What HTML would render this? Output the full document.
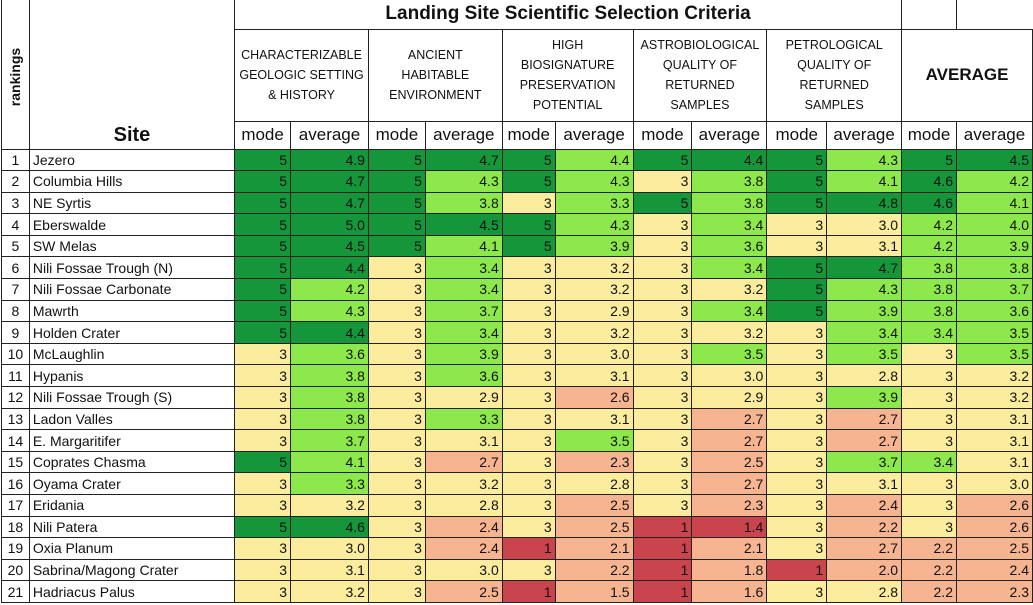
<!DOCTYPE html>
<html><head><meta charset="utf-8"><style>
body{margin:0;background:#fff;width:1033px;height:605px;overflow:hidden}
table{border-collapse:collapse;table-layout:fixed;font-family:"Liberation Sans",sans-serif;color:#111;position:absolute;left:1px;top:-1px}
td{border:1px solid #222;padding:0 3px;overflow:hidden;white-space:nowrap;font-size:14px}
tr.d td{height:20.6px;text-align:right;line-height:20px}
tr.d td.r{text-align:center;padding:0}
tr.d td.s{text-align:left}
.D{background:#16963a}.L{background:#8de84c}.Y{background:#fbec9e}.S{background:#f7b490}.R{background:#c9444c}
.crit{font-size:12.5px;text-align:center;line-height:20px;white-space:nowrap;padding:0}
.m td{font-size:17px;text-align:center;height:27px}
</style></head><body>
<table>
<colgroup><col style="width:28px"><col style="width:206px"><col style="width:56px"><col style="width:78px"><col style="width:57px"><col style="width:77px"><col style="width:53px"><col style="width:78px"><col style="width:59px"><col style="width:75px"><col style="width:60px"><col style="width:75px"><col style="width:55px"><col style="width:76px"></colgroup>
<tr style="height:30px"><td rowspan="3" style="padding:0;border-top:none;position:relative"><div style="position:absolute;left:-27px;top:70px;width:80px;transform:rotate(-90deg);font-weight:bold;font-size:14px;text-align:center">rankings</div></td>
<td rowspan="3" style="vertical-align:bottom;text-align:center;font-weight:bold;font-size:20px;border-top:none;padding-bottom:2px">Site</td>
<td colspan="10" style="text-align:center;font-weight:bold;font-size:19px;border-top:none">Landing Site Scientific Selection Criteria</td>
<td style="border-top:none"></td><td style="border-top:none;border-right:none"></td></tr>
<tr style="height:92px"><td colspan="2" class="crit">CHARACTERIZABLE<br>GEOLOGIC SETTING<br>&amp; HISTORY</td><td colspan="2" class="crit">ANCIENT<br>HABITABLE<br>ENVIRONMENT</td><td colspan="2" class="crit">HIGH<br>BIOSIGNATURE<br>PRESERVATION<br>POTENTIAL</td><td colspan="2" class="crit">ASTROBIOLOGICAL<br>QUALITY OF<br>RETURNED<br>SAMPLES</td><td colspan="2" class="crit">PETROLOGICAL<br>QUALITY OF<br>RETURNED<br>SAMPLES</td><td colspan="2" style="text-align:center;font-weight:bold;font-size:17px">AVERAGE</td></tr>
<tr class="m"><td>mode</td><td>average</td><td>mode</td><td>average</td><td>mode</td><td>average</td><td>mode</td><td>average</td><td>mode</td><td>average</td><td>mode</td><td>average</td></tr>
<tr class="d"><td class="r">1</td><td class="s">Jezero</td><td class="D">5</td><td class="D">4.9</td><td class="D">5</td><td class="D">4.7</td><td class="D">5</td><td class="L">4.4</td><td class="D">5</td><td class="D">4.4</td><td class="D">5</td><td class="L">4.3</td><td class="D">5</td><td class="D">4.5</td></tr>
<tr class="d"><td class="r">2</td><td class="s">Columbia Hills</td><td class="D">5</td><td class="D">4.7</td><td class="D">5</td><td class="L">4.3</td><td class="D">5</td><td class="L">4.3</td><td class="Y">3</td><td class="L">3.8</td><td class="D">5</td><td class="L">4.1</td><td class="D">4.6</td><td class="L">4.2</td></tr>
<tr class="d"><td class="r">3</td><td class="s">NE Syrtis</td><td class="D">5</td><td class="D">4.7</td><td class="D">5</td><td class="L">3.8</td><td class="Y">3</td><td class="L">3.3</td><td class="D">5</td><td class="L">3.8</td><td class="D">5</td><td class="D">4.8</td><td class="D">4.6</td><td class="L">4.1</td></tr>
<tr class="d"><td class="r">4</td><td class="s">Eberswalde</td><td class="D">5</td><td class="D">5.0</td><td class="D">5</td><td class="D">4.5</td><td class="D">5</td><td class="L">4.3</td><td class="Y">3</td><td class="L">3.4</td><td class="Y">3</td><td class="Y">3.0</td><td class="L">4.2</td><td class="L">4.0</td></tr>
<tr class="d"><td class="r">5</td><td class="s">SW Melas</td><td class="D">5</td><td class="D">4.5</td><td class="D">5</td><td class="L">4.1</td><td class="D">5</td><td class="L">3.9</td><td class="Y">3</td><td class="L">3.6</td><td class="Y">3</td><td class="Y">3.1</td><td class="L">4.2</td><td class="L">3.9</td></tr>
<tr class="d"><td class="r">6</td><td class="s">Nili Fossae Trough (N)</td><td class="D">5</td><td class="D">4.4</td><td class="Y">3</td><td class="L">3.4</td><td class="Y">3</td><td class="Y">3.2</td><td class="Y">3</td><td class="L">3.4</td><td class="D">5</td><td class="D">4.7</td><td class="L">3.8</td><td class="L">3.8</td></tr>
<tr class="d"><td class="r">7</td><td class="s">Nili Fossae Carbonate</td><td class="D">5</td><td class="L">4.2</td><td class="Y">3</td><td class="L">3.4</td><td class="Y">3</td><td class="Y">3.2</td><td class="Y">3</td><td class="Y">3.2</td><td class="D">5</td><td class="L">4.3</td><td class="L">3.8</td><td class="L">3.7</td></tr>
<tr class="d"><td class="r">8</td><td class="s">Mawrth</td><td class="D">5</td><td class="L">4.3</td><td class="Y">3</td><td class="L">3.7</td><td class="Y">3</td><td class="Y">2.9</td><td class="Y">3</td><td class="L">3.4</td><td class="D">5</td><td class="L">3.9</td><td class="L">3.8</td><td class="L">3.6</td></tr>
<tr class="d"><td class="r">9</td><td class="s">Holden Crater</td><td class="D">5</td><td class="D">4.4</td><td class="Y">3</td><td class="L">3.4</td><td class="Y">3</td><td class="Y">3.2</td><td class="Y">3</td><td class="Y">3.2</td><td class="Y">3</td><td class="L">3.4</td><td class="L">3.4</td><td class="L">3.5</td></tr>
<tr class="d"><td class="r">10</td><td class="s">McLaughlin</td><td class="Y">3</td><td class="L">3.6</td><td class="Y">3</td><td class="L">3.9</td><td class="Y">3</td><td class="Y">3.0</td><td class="Y">3</td><td class="L">3.5</td><td class="Y">3</td><td class="L">3.5</td><td class="Y">3</td><td class="L">3.5</td></tr>
<tr class="d"><td class="r">11</td><td class="s">Hypanis</td><td class="Y">3</td><td class="L">3.8</td><td class="Y">3</td><td class="L">3.6</td><td class="Y">3</td><td class="Y">3.1</td><td class="Y">3</td><td class="Y">3.0</td><td class="Y">3</td><td class="Y">2.8</td><td class="Y">3</td><td class="Y">3.2</td></tr>
<tr class="d"><td class="r">12</td><td class="s">Nili Fossae Trough (S)</td><td class="Y">3</td><td class="L">3.8</td><td class="Y">3</td><td class="Y">2.9</td><td class="Y">3</td><td class="S">2.6</td><td class="Y">3</td><td class="Y">2.9</td><td class="Y">3</td><td class="L">3.9</td><td class="Y">3</td><td class="Y">3.2</td></tr>
<tr class="d"><td class="r">13</td><td class="s">Ladon Valles</td><td class="Y">3</td><td class="L">3.8</td><td class="Y">3</td><td class="L">3.3</td><td class="Y">3</td><td class="Y">3.1</td><td class="Y">3</td><td class="S">2.7</td><td class="Y">3</td><td class="S">2.7</td><td class="Y">3</td><td class="Y">3.1</td></tr>
<tr class="d"><td class="r">14</td><td class="s">E. Margaritifer</td><td class="Y">3</td><td class="L">3.7</td><td class="Y">3</td><td class="Y">3.1</td><td class="Y">3</td><td class="L">3.5</td><td class="Y">3</td><td class="S">2.7</td><td class="Y">3</td><td class="S">2.7</td><td class="Y">3</td><td class="Y">3.1</td></tr>
<tr class="d"><td class="r">15</td><td class="s">Coprates Chasma</td><td class="D">5</td><td class="L">4.1</td><td class="Y">3</td><td class="S">2.7</td><td class="Y">3</td><td class="S">2.3</td><td class="Y">3</td><td class="S">2.5</td><td class="Y">3</td><td class="L">3.7</td><td class="L">3.4</td><td class="Y">3.1</td></tr>
<tr class="d"><td class="r">16</td><td class="s">Oyama Crater</td><td class="Y">3</td><td class="L">3.3</td><td class="Y">3</td><td class="Y">3.2</td><td class="Y">3</td><td class="Y">2.8</td><td class="Y">3</td><td class="S">2.7</td><td class="Y">3</td><td class="Y">3.1</td><td class="Y">3</td><td class="Y">3.0</td></tr>
<tr class="d"><td class="r">17</td><td class="s">Eridania</td><td class="Y">3</td><td class="Y">3.2</td><td class="Y">3</td><td class="Y">2.8</td><td class="Y">3</td><td class="S">2.5</td><td class="Y">3</td><td class="S">2.3</td><td class="Y">3</td><td class="S">2.4</td><td class="Y">3</td><td class="S">2.6</td></tr>
<tr class="d"><td class="r">18</td><td class="s">Nili Patera</td><td class="D">5</td><td class="D">4.6</td><td class="Y">3</td><td class="S">2.4</td><td class="Y">3</td><td class="S">2.5</td><td class="R">1</td><td class="R">1.4</td><td class="Y">3</td><td class="S">2.2</td><td class="Y">3</td><td class="S">2.6</td></tr>
<tr class="d"><td class="r">19</td><td class="s">Oxia Planum</td><td class="Y">3</td><td class="Y">3.0</td><td class="Y">3</td><td class="S">2.4</td><td class="R">1</td><td class="S">2.1</td><td class="R">1</td><td class="S">2.1</td><td class="Y">3</td><td class="S">2.7</td><td class="S">2.2</td><td class="S">2.5</td></tr>
<tr class="d"><td class="r">20</td><td class="s">Sabrina/Magong Crater</td><td class="Y">3</td><td class="Y">3.1</td><td class="Y">3</td><td class="Y">3.0</td><td class="Y">3</td><td class="S">2.2</td><td class="R">1</td><td class="S">1.8</td><td class="R">1</td><td class="S">2.0</td><td class="S">2.2</td><td class="S">2.4</td></tr>
<tr class="d"><td class="r">21</td><td class="s">Hadriacus Palus</td><td class="Y">3</td><td class="Y">3.2</td><td class="Y">3</td><td class="S">2.5</td><td class="R">1</td><td class="S">1.5</td><td class="R">1</td><td class="S">1.6</td><td class="Y">3</td><td class="Y">2.8</td><td class="S">2.2</td><td class="S">2.3</td></tr>
</table>
</body></html>
